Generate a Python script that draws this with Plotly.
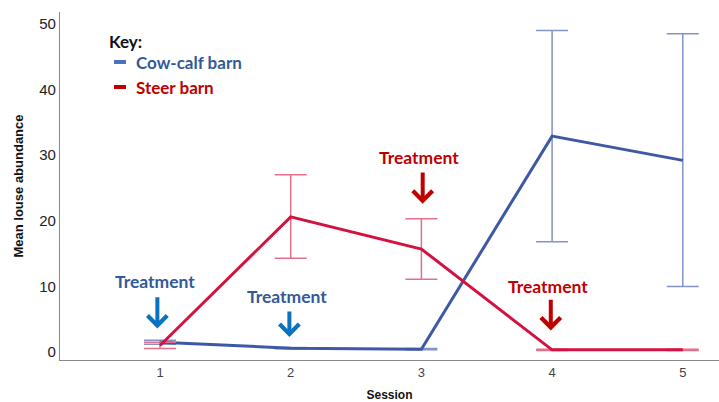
import plotly.graph_objects as go

sessions = [1, 2, 3, 4, 5]
tick_labels = ["1", "2", "3", "4", "5"]

cow_mean = [1.5, 0.6, 0.45, 32.9, 29.2]
cow_upper = [1.8, 0.7, 0.55, 49.0, 48.5]
cow_lower = [1.2, 0.5, 0.35, 16.8, 10.0]

steer_mean = [1.0, 20.6, 15.7, 0.35, 0.35]
steer_upper = [1.5, 27.0, 20.3, 0.45, 0.45]
steer_lower = [0.55, 14.3, 11.1, 0.25, 0.25]

BLUE = "#3F58A6"
BLUE_ERR = "#8494C6"
RED = "#D21341"
RED_ERR = "#E2708C"
BLUE_TXT = "#34599A"
RED_TXT = "#C00000"
BLUE_ARROW = "#0A72C0"

def err(mean, up, lo):
    return dict(type="data", symmetric=False,
                array=[u - m for u, m in zip(up, mean)],
                arrayminus=[m - l for m, l in zip(mean, lo)],
                thickness=1.5, width=16)

fig = go.Figure()
fig.add_trace(go.Scatter(x=sessions, y=cow_mean, mode="lines", name="Cow-calf barn",
                         line=dict(color=BLUE, width=3),
                         error_y=dict(**err(cow_mean, cow_upper, cow_lower), color=BLUE_ERR),
                         showlegend=False))
fig.add_trace(go.Scatter(x=sessions, y=steer_mean, mode="lines", name="Steer barn",
                         line=dict(color=RED, width=3),
                         error_y=dict(**err(steer_mean, steer_upper, steer_lower), color=RED_ERR),
                         showlegend=False))

TFONT = "Lato, 'Open Sans', sans-serif"
treat = [
    # text x, text y, arrow x, arrow tip y, arrow tail y, text colour, arrow colour
    (0.96, 10.8, 0.98, 3.6, 8.6, BLUE_TXT, BLUE_ARROW),
    (1.97, 8.5, 1.99, 2.3, 6.4, BLUE_TXT, BLUE_ARROW),
    (2.98, 29.6, 3.01, 22.6, 27.6, RED_TXT, RED_TXT),
    (3.97, 10.0, 3.99, 3.3, 8.2, RED_TXT, RED_TXT),
]
for tx, ty, axx, tip, tail, tc, ac in treat:
    fig.add_annotation(x=tx, y=ty, text="<b>Treatment</b>", showarrow=False,
                       font=dict(family=TFONT, size=17.5, color=tc), xref="x", yref="y")
    fig.add_annotation(x=axx, y=tip, ax=axx, ay=tail, axref="x", ayref="y",
                       xref="x", yref="y", text="", showarrow=True,
                       arrowhead=4, arrowsize=0.95, arrowwidth=4, arrowcolor=ac)

fig.update_layout(
    width=719, height=402,
    margin=dict(l=60, r=0, t=12, b=42),
    paper_bgcolor="white", plot_bgcolor="white",
    font=dict(family="'Liberation Sans', Arial, sans-serif"),
    xaxis=dict(range=[0.235, 5.277], tickmode="array", tickvals=sessions, ticktext=tick_labels,
               showgrid=False, zeroline=False, showline=True, linecolor="#8a8a8a", linewidth=1.2,
               ticks="", tickfont=dict(size=13, color="#444444"), automargin=False,
               title=dict(text="<b>Session</b>", font=dict(size=12, color="#111111"), standoff=17)),
    yaxis=dict(range=[-1.2, 51.8], tickvals=[0, 10, 20, 30, 40, 50],
               showgrid=False, zeroline=False, showline=True, linecolor="#8a8a8a", linewidth=1.2,
               ticks="", tickfont=dict(size=15, color="#222222"), automargin=False,
               title=dict(text="<b>Mean louse abundance</b>", font=dict(size=13, color="#111111"), standoff=12)),
)

pw, ph = 719 - 60, 402 - 12 - 42
def px(xp): return (xp - 60) / pw
def py(yp): return (402 - 42 - yp) / ph
fig.add_annotation(x=px(107), y=py(41), xref="paper", yref="paper", text="<b>Key:</b>",
                   showarrow=False, xanchor="left", yanchor="middle",
                   font=dict(family=TFONT, size=17, color="#111111"))
fig.add_annotation(x=px(134), y=py(62), xref="paper", yref="paper",
                   text="<b>Cow-calf barn</b>", showarrow=False, xanchor="left", yanchor="middle",
                   font=dict(family=TFONT, size=17, color=BLUE_TXT))
fig.add_annotation(x=px(134), y=py(87), xref="paper", yref="paper",
                   text="<b>Steer barn</b>", showarrow=False, xanchor="left", yanchor="middle",
                   font=dict(family=TFONT, size=17, color=RED_TXT))
fig.add_shape(type="line", xref="paper", yref="paper", x0=px(114), x1=px(126), y0=py(62), y1=py(62),
              line=dict(color="#4A72C0", width=4))
fig.add_shape(type="line", xref="paper", yref="paper", x0=px(114), x1=px(126), y0=py(87), y1=py(87),
              line=dict(color=RED_TXT, width=4))

fig.write_html("out.html", config={"displayModeBar": False},
               post_script="document.body.style.margin='0';document.body.style.overflow='hidden';")
